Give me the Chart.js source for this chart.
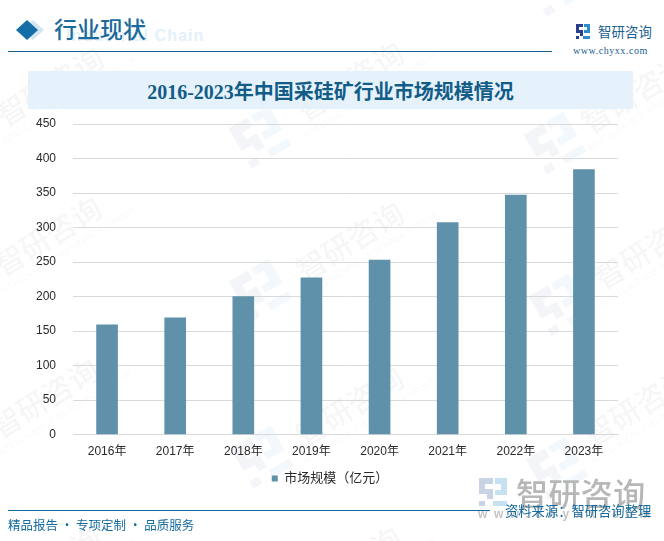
<!DOCTYPE html>
<html><head><meta charset="utf-8">
<script src="https://cdn.jsdelivr.net/npm/chart.js@4"></script>
<style>
html,body{margin:0;padding:0;background:#fff;width:664px;height:541px;overflow:hidden}
#wrap{position:relative;width:664px;height:541px;overflow:hidden;font-family:"Liberation Sans","Noto Sans CJK SC",sans-serif}
#wrap>*{position:absolute}
canvas{left:0;top:0}
.wm{width:140px;text-align:center;color:rgba(120,120,120,.07);font:500 30px/34px "Noto Sans CJK SC";transform:rotate(-32deg);white-space:nowrap}
.wm small{display:block;font:8.5px/10px "Liberation Sans";letter-spacing:.5px;margin-top:2px}
.wmlogo{transform:rotate(-30deg)}
</style></head><body>
<div id="wrap">
<div id="marks"></div>
<div style="left:66px;top:27px;font:bold 16px 'Liberation Sans';color:#e3f1fa;letter-spacing:1.1px;white-space:nowrap">Industrial Chain</div>
<svg style="left:15px;top:17px" width="34" height="24"><path d="M18 3l11 10-11 10-11-10z" fill="#d3e5ef"/><path d="M12 3l11 10-11 10L1 13z" fill="#136ea8"/></svg>
<div style="left:54px;top:14px;font:500 23px/28px 'Noto Sans CJK SC';color:#1a6a9a;white-space:nowrap">行业现状</div>
<div style="left:8px;top:51px;width:544px;height:1px;background:#12608c"></div>
<div style="left:28px;top:71px;width:605px;height:38px;background:#e5f2fb"></div>
<div style="left:28px;top:71px;width:605px;text-align:center;font:bold 20px/42px 'Liberation Serif','Noto Sans CJK SC';color:#125c88;white-space:nowrap">2016-2023年中国采硅矿行业市场规模情况</div>
<svg style="left:575px;top:23px" width="16" height="17"><path d="M1 1h7v3H4v3h4v6H5v-3h0V10H1zM1 13h3v3H1z" fill="#2a3f8f"/><path d="M9 1h6v9H9V7h3V4H9zM8 13h7v3H8z" fill="#2c8ccf"/></svg>
<div style="left:598px;top:22px;font:13.4px/19px 'Noto Sans CJK SC';color:#1a6090;letter-spacing:.1px;white-space:nowrap">智研咨询</div>
<div style="left:573px;top:44px;font:10px/13px 'Liberation Serif';color:#1a6090;letter-spacing:.55px;white-space:nowrap">www.chyxx.com</div>
<canvas id="c" width="664" height="541"></canvas>
<svg style="left:478px;top:477px" width="30" height="30"><path d="M1 1h14v6H7v5h8v10H9v-5H1zM1 24h6v5H1z" fill="#c9d3e6"/><path d="M17 1h12v17H17v-5h6V7h-6zM15 24h14v5H15z" fill="#c5e1f2"/></svg>
<div style="left:516px;top:473px;font:500 32px/38px 'Noto Sans CJK SC';color:#b7b7b7;letter-spacing:.4px;white-space:nowrap">智研咨询</div>
<div style="left:478px;top:507px;font:bold 12px/15px 'Liberation Sans';color:#c4c4c4;letter-spacing:6.6px;white-space:nowrap">www.chyxx.com</div>
<div style="left:8px;top:510px;width:482px;height:1px;background:#12689c"></div>
<div style="left:8px;top:516px;font:12.5px/18px 'Noto Sans CJK SC';color:#156a9e;white-space:nowrap">精品报告 · 专项定制 · 品质服务</div>
<div style="left:505px;top:502px;font:13.3px/18px 'Noto Sans CJK SC';color:#156a9e;white-space:nowrap">资料来源：智研咨询整理</div>
</div>
<script>
const categories=['2016年','2017年','2018年','2019年','2020年','2021年','2022年','2023年'];
const seriesName='市场规模（亿元）';
const seriesValues=[159,169,200,227,253,307,347,384];
const axisMax=450, axisStep=50;
const wmTexts=[[52,85],[352,80],[637,92],[50,235],[352,240],[650,248],[47,397],[352,405],[640,405],[50,565],[350,565]];
const wmLogos=[[555,-15],[260,137],[555,143],[260,290],[560,305],[262,457],[557,468]];
const marks=document.getElementById('marks');
wmTexts.forEach(p=>{const d=document.createElement('div');d.className='wm';d.innerHTML='智研咨询<small>INTELLIGENCE RESEARCH GROUP</small>';d.style.cssText=`position:absolute;left:${p[0]-70}px;top:${p[1]-18}px`;marks.appendChild(d);});
wmLogos.forEach(p=>{const d=document.createElementNS('http://www.w3.org/2000/svg','svg');d.setAttribute('width','50');d.setAttribute('height','50');d.setAttribute('class','wmlogo');d.style.cssText=`position:absolute;left:${p[0]-25}px;top:${p[1]-25}px`;d.innerHTML='<path d="M2 2h22v10H12v8h12v16h-9v-8H2zM2 40h10v8H2z" fill="rgba(90,110,160,.07)"/><path d="M28 2h20v28H28v-8h10V10H28zM24 40h24v8H24z" fill="rgba(70,150,210,.07)"/>';marks.appendChild(d);});
const shiftLegend={id:'shiftLegend',afterLayout(chart){const l=chart.legend;l.left+=21;l.right+=21;l.top+=3;l.bottom+=3;}};
new Chart(document.getElementById('c'),{type:'bar',plugins:[shiftLegend],
data:{labels:categories,datasets:[{label:seriesName,data:seriesValues,backgroundColor:'#5f92aa',barThickness:21}]},
options:{responsive:false,animation:false,devicePixelRatio:1,
layout:{padding:{left:0,right:46,top:124,bottom:49}},
plugins:{title:{display:false},tooltip:{enabled:false},
legend:{position:'bottom',labels:{boxWidth:6,boxHeight:6,font:{size:13,family:'"Liberation Sans","Noto Sans CJK SC"'},color:'#2a2a2a',padding:8}}},
scales:{
x:{grid:{display:false},border:{color:'#d9d9d9'},ticks:{color:'#2a2a2a',padding:2,maxRotation:0,font:{size:12,family:'"Liberation Sans","Noto Sans CJK SC"'}}},
y:{min:0,max:axisMax,afterFit(s){s.width=73;},grid:{color:'#d9d9d9',drawTicks:false},border:{display:false},ticks:{stepSize:axisStep,color:'#2a2a2a',padding:17,font:{size:12,family:'"Liberation Sans"'}}}
}}});
</script>
</body></html>
